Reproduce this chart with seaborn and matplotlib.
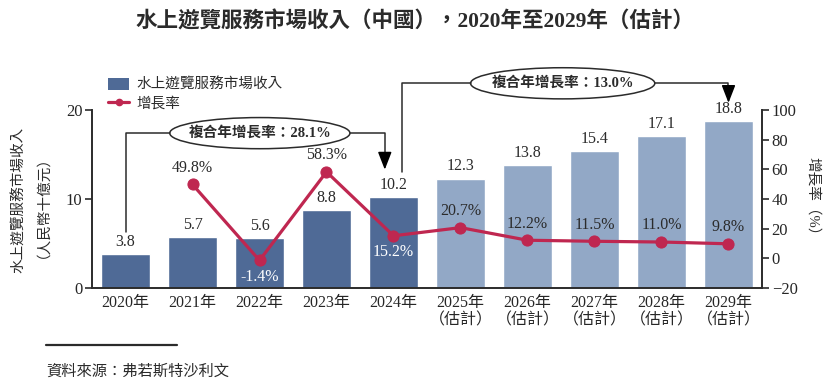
import numpy as np
import matplotlib.pyplot as plt
import seaborn as sns
from matplotlib.patches import Ellipse, Patch
from matplotlib.lines import Line2D

# data
years = ["2020", "2021", "2022", "2023", "2024", "2025", "2026", "2027", "2028", "2029"]
revenue = [3.8, 5.7, 5.6, 8.8, 10.2, 12.3, 13.8, 15.4, 17.1, 18.8]   # RMB billion
growth_years = years[1:]
growth = [49.8, -1.4, 58.3, 15.2, 20.7, 12.2, 11.5, 11.0, 9.8]     # %
is_estimate = [False] * 5 + [True] * 5
cagr_hist = "28.1%"
cagr_fcst = "13.0%"

tick_labels = [y + "年" + ("\n（估計）" if e else "") for y, e in zip(years, is_estimate)]

DARK = "#4f6a96"
LIGHT = "#92a8c6"
RED = "#bf2750"
INK = "#2b2b2b"

sns.set_theme(style="white")
plt.rcParams["font.family"] = ["Liberation Serif", "Noto Sans CJK TC", "DejaVu Sans"]
plt.rcParams["text.color"] = INK

W, H = 831, 390
fig = plt.figure(figsize=(W / 100, H / 100), dpi=100)
ax = fig.add_axes([92 / W, 1 - 288 / H, (762 - 92) / W, (288 - 110) / H])

df_colors = [LIGHT if e else DARK for e in is_estimate]
sns.barplot(x=years, y=revenue, hue=years, palette=df_colors, legend=False,
            width=0.73, ax=ax, saturation=1)
ax.set_xlim(-0.5, 9.5)
ax.set_ylim(0, 20)
ax.set_xlabel("")
ax.set_ylabel("")
ax.set_xticks(range(len(years)))
ax.set_xticklabels(tick_labels, fontsize=11.5, linespacing=1.15)
ax.set_xticks(np.arange(0.5, len(years) - 1, 1), minor=True)
ax.tick_params(axis="x", which="major", length=0, pad=5)
ax.tick_params(axis="x", which="minor", direction="in", length=6, width=1.2, color=INK)
ax.set_yticks([0, 10, 20])
ax.tick_params(axis="y", direction="out", length=5, width=1.2, color=INK, labelsize=12, pad=2,
               left=True)
for s in ["top", "right"]:
    ax.spines[s].set_visible(False)
for s in ["left", "bottom"]:
    ax.spines[s].set_color(INK)
    ax.spines[s].set_linewidth(1.4)

for i, v in enumerate(revenue):
    ax.annotate(f"{v:.1f}", (i, v), xytext=(0, 3), textcoords="offset points",
                ha="center", va="bottom", fontsize=11.5)

# growth rate line on the right axis
ax2 = ax.twinx()
sns.lineplot(x=np.arange(1, len(years)), y=growth, ax=ax2, color=RED, lw=2.3,
             marker="o", markersize=8, markeredgecolor=RED, legend=False)
ax2.set_ylim(-20, 100)
ax2.set_yticks(range(-20, 101, 20))
ax2.tick_params(axis="y", direction="out", length=5, width=1.2, color=INK, labelsize=12, pad=2,
                right=True)
for s in ["top", "left", "bottom"]:
    ax2.spines[s].set_visible(False)
ax2.spines["right"].set_color(INK)
ax2.spines["right"].set_linewidth(1.4)
ax2.set_ylabel("")

below = {"2022", "2024"}
for yr, g, x in zip(growth_years, growth, range(1, len(years))):
    if yr in below:
        ax2.annotate(f"{g:.1f}%", (x, g), xytext=(0, -12), textcoords="offset points",
                     ha="center", va="center", fontsize=11.5, color="white")
    else:
        ax2.annotate(f"{g:.1f}%", (x, g), xytext=(0, 12), textcoords="offset points",
                     ha="center", va="center", fontsize=11.5)

# CAGR brackets
def bracket(x0, y0, x1, y1, ytop, ex0, ex1, text):
    kw = dict(color=INK, lw=1.1, clip_on=False)
    ax.plot([x0, x0, ex0], [y0, ytop, ytop], **kw)
    ax.plot([ex1, x1, x1], [ytop, ytop, y1 + 1.2], **kw)
    ax.annotate("", xy=(x1, y1), xytext=(x1, y1 + 1.4), annotation_clip=False,
                arrowprops=dict(arrowstyle="-|>,head_length=0.9,head_width=0.35",
                                color="black", lw=1.1, shrinkA=0, shrinkB=0))
    ell = Ellipse(((ex0 + ex1) / 2, ytop), ex1 - ex0, 3.5, facecolor="white",
                  edgecolor=INK, lw=1.1, clip_on=False)
    ax.add_patch(ell)
    ax.text((ex0 + ex1) / 2, ytop, "複合年增長率：" + text, ha="center", va="center",
            fontsize=10.5, fontweight="bold", clip_on=False)

bracket(0, revenue[0] + 2.5, 4 - 0.13, revenue[4] + 3.1, 17.4, 0.66, 3.35, cagr_hist)
bracket(4 + 0.12, revenue[4] + 2.8, 9, revenue[9] + 2.0, 23.0, 5.15, 7.9, cagr_fcst)

# legend
handles = [Patch(facecolor=DARK, edgecolor="none"),
           Line2D([0], [0], color=RED, lw=2.3, marker="o", markersize=4.5)]
fig.legend(handles, ["水上遊覽服務市場收入", "增長率"], loc="upper left",
           bbox_to_anchor=(108 / W, 1 - 78 / H), frameon=False, fontsize=10.5,
           handlelength=1.45, handleheight=0.8, handletextpad=0.5, labelspacing=0.3,
           borderpad=0, borderaxespad=0)

# titles and axis labels
fig.text(415 / W, 1 - 22 / H, "水上遊覽服務市場收入（中國），2020年至2029年（估計）",
         ha="center", va="center", fontsize=15.5, fontweight="bold")
fig.text(27 / W, 1 - 200 / H, "水上遊覽服務市場收入\n（人民幣十億元）", rotation=90,
         ha="center", va="center", fontsize=10.5, linespacing=1.2, multialignment="center")
fig.text(813 / W, 1 - 200 / H, "增長率（%）", rotation=270, ha="center", va="center",
         fontsize=10.5)

# source note
fig.add_artist(Line2D([46 / W, 177 / W], [1 - 345 / H] * 2, color=INK, lw=1.6))
fig.text(46 / W, 1 - 372 / H, "資料來源：弗若斯特沙利文", ha="left", va="center",
         fontsize=11, style="italic")

fig.savefig("out.png", dpi=100)
